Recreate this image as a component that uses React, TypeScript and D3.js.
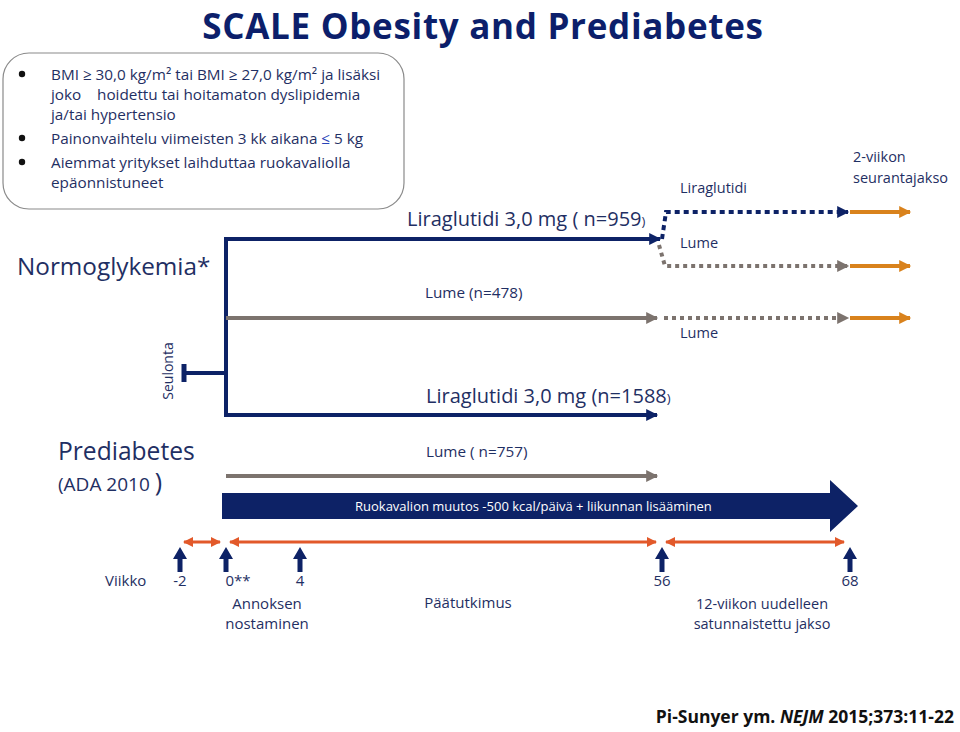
import React from "react";
import * as d3 from "d3";

const width = 960;
const height = 732;

// study timeline (weeks)
const weekTicks = [-2, 0, 4, 56, 68];
const weekTickLabels = ["-2", "0**", "4", "56", "68"];
const followUpEnd = 70;

// treatment arms
const arms = ["liraNormo", "lumeNormo", "liraPre", "lumePre"];
const armLabels = ["Liraglutidi 3,0 mg ( n=959", "Lume (n=478)", "Liraglutidi 3,0 mg (n=1588", "Lume ( n=757)"];
const armDrug = [true, false, true, false];

// re-randomisation branches after week 56
const branchLabels = ["Liraglutidi", "Lume", "Lume"];

const criteria = [
  ["BMI ≥ 30,0 kg/m² tai BMI ≥ 27,0 kg/m² ja lisäksi", "joko|hoidettu tai hoitamaton dyslipidemia", "ja/tai hypertensio"],
  ["Painonvaihtelu viimeisten 3 kk aikana ≤ 5 kg"],
  ["Aiemmat yritykset laihduttaa ruokavaliolla", "epäonnistuneet"],
];

const navy = "#0d2266";
const textNavy = "#1f2f63";
const gray = "#7c736e";
const amber = "#d9821c";
const orange = "#e2592a";
const font = "'Open Sans', Lato, sans-serif";

export default function App() {
  const x = d3
    .scaleLinear()
    .domain([-2, 0, 4, 56, 68, followUpEnd])
    .range([180, 226, 300, 662, 850, 910]);

  const y = d3.scaleOrdinal<string, number>().domain(arms).range([239, 318, 415, 476]);

  const x0 = x(0);
  const x56 = x(56);
  const x68 = x(68);

  // big diet arrow
  const tip = x68 + 8;
  const bodyEnd = tip - 28;
  const bigArrow = d3.line()([
    [x0 - 4, 493],
    [bodyEnd, 493],
    [bodyEnd, 480],
    [tip, 506],
    [bodyEnd, 532],
    [bodyEnd, 519],
    [x0 - 4, 519],
  ]);

  const upArrow = (cx: number) =>
    d3.line()([
      [cx - 2.5, 572],
      [cx - 2.5, 559],
      [cx - 7, 559],
      [cx, 547],
      [cx + 7, 559],
      [cx + 2.5, 559],
      [cx + 2.5, 572],
    ]);

  const tlSegments = [
    [-2, 0],
    [0, 56],
    [56, 68],
  ];

  const fs = 15.3;
  let lineY = 80;
  const lines: React.ReactNode[] = [];
  criteria.forEach((group, gi) => {
    if (gi > 0) lineY += 4;
    group.forEach((t, li) => {
      if (li === 0)
        lines.push(<circle key={`b${gi}`} cx={22} cy={lineY - 6} r={3.2} fill="#111" />);
      const parts = t.split("|");
      if (parts.length > 1) {
        lines.push(
          <text key={`t${gi}${li}`} y={lineY} fontSize={fs} fill={textNavy}>
            <tspan x={51}>{parts[0]}</tspan>
            <tspan x={97}>{parts[1]}</tspan>
          </text>
        );
      } else if (t.includes("≤")) {
        const [a, b] = t.split("≤");
        lines.push(
          <text key={`t${gi}${li}`} x={51} y={lineY} fontSize={fs} fill={textNavy}>
            {a}
            <tspan fill="#2845b8">≤</tspan>
            {b}
          </text>
        );
      } else {
        lines.push(
          <text key={`t${gi}${li}`} x={51} y={lineY} fontSize={fs} fill={textNavy}>
            {t}
          </text>
        );
      }
      lineY += 20;
    });
  });

  return (
    <svg
      width={width}
      height={height}
      style={{ display: "block", position: "absolute", left: 0, top: 0, fontFamily: font }}
    >
      <defs>
        <marker id="hNavy" viewBox="0 0 10 10" refX="9" refY="5" markerWidth="14" markerHeight="12" markerUnits="userSpaceOnUse" orient="auto">
          <path d="M0,0L10,5L0,10Z" fill={navy} />
        </marker>
        <marker id="hGray" viewBox="0 0 10 10" refX="9" refY="5" markerWidth="14" markerHeight="12" markerUnits="userSpaceOnUse" orient="auto">
          <path d="M0,0L10,5L0,10Z" fill={gray} />
        </marker>
        <marker id="hAmber" viewBox="0 0 10 10" refX="9" refY="5" markerWidth="14" markerHeight="12" markerUnits="userSpaceOnUse" orient="auto">
          <path d="M0,0L10,5L0,10Z" fill={amber} />
        </marker>
        <marker id="hOrange" viewBox="0 0 10 10" refX="9" refY="5" markerWidth="12" markerHeight="10" markerUnits="userSpaceOnUse" orient="auto-start-reverse">
          <path d="M0,0L10,5L0,10Z" fill={orange} />
        </marker>
      </defs>
      <rect width={width} height={height} fill="#fff" />

      <text x={483} y={38.5} textAnchor="middle" fontSize={35} letterSpacing={0.7} fontWeight="bold" fill="#0c1f6b">
        SCALE Obesity and Prediabetes
      </text>

      <rect x={3} y={53} width={401} height={156} rx={26} fill="#fff" stroke="#8a8a8a" strokeWidth={1.2} />
      {lines}

      <text x={17} y={275} fontSize={24.3} fill={textNavy}>Normoglykemia*</text>
      <text x={58} y={460} fontSize={24.6} fill={textNavy}>Prediabetes</text>
      <text x={58} y={491} fontSize={19} fill={textNavy}>
        (ADA 2010 <tspan fontSize={25}>)</tspan>
      </text>
      <text transform={`translate(173,371) rotate(-90)`} textAnchor="middle" fontSize={14} fill={textNavy}>
        Seulonta
      </text>

      {/* screening T and randomisation line */}
      <line x1={x(-2) + 3} x2={x0} y1={373} y2={373} stroke={navy} strokeWidth={4} />
      <line x1={x(-2) + 4} x2={x(-2) + 4} y1={364} y2={382} stroke={navy} strokeWidth={5} />
      <line x1={x0} x2={x0} y1={y("liraNormo")} y2={y("liraPre")} stroke={navy} strokeWidth={4} strokeLinecap="square" />

      {/* main arms */}
      {arms.map((a, i) => (
        <line
          key={a}
          x1={x0}
          x2={x56 - (i === 0 ? 2 : 5)}
          y1={y(a)}
          y2={y(a)}
          stroke={armDrug[i] ? navy : gray}
          strokeWidth={4}
          markerEnd={`url(#${armDrug[i] ? "hNavy" : "hGray"})`}
        />
      ))}
      <text x={407} y={226} fontSize={20} fill={textNavy}>
        {armLabels[0]}
        <tspan fontSize={13}>)</tspan>
      </text>
      <text x={425} y={298} fontSize={15.3} fill={textNavy}>{armLabels[1]}</text>
      <text x={426} y={403} fontSize={20} fill={textNavy}>
        {armLabels[2]}
        <tspan fontSize={13}>)</tspan>
      </text>
      <text x={426} y={457} fontSize={15.3} fill={textNavy}>{armLabels[3]}</text>

      {/* extension dotted branches */}
      <path
        d={d3.line()([[x56, y("liraNormo")], [x56 + 4, 212], [x68 - 2, 212]]) || ""}
        fill="none"
        stroke={navy}
        strokeWidth={4}
        strokeDasharray="5 4"
        markerEnd="url(#hNavy)"
      />
      <path
        d={d3.line()([[x56 - 3, y("liraNormo") + 6], [x56 + 3, 266], [x68 - 2, 266]]) || ""}
        fill="none"
        stroke={gray}
        strokeWidth={4}
        strokeDasharray="4 4"
        markerEnd="url(#hGray)"
      />
      <line x1={x56 + 2} x2={x68 - 2} y1={y("lumeNormo")} y2={y("lumeNormo")} stroke={gray} strokeWidth={4} strokeDasharray="4 4" markerEnd="url(#hGray)" />
      {[212, 266, y("lumeNormo")].map((yy) => (
        <line key={yy} x1={x68} x2={x(followUpEnd)} y1={yy} y2={yy} stroke={amber} strokeWidth={4} markerEnd="url(#hAmber)" />
      ))}
      <text x={680} y={193} fontSize={14.5} fill={textNavy}>{branchLabels[0]}</text>
      <text x={680} y={248} fontSize={14.5} fill={textNavy}>{branchLabels[1]}</text>
      <text x={680} y={338} fontSize={14.5} fill={textNavy}>{branchLabels[2]}</text>
      <text x={853} y={162} fontSize={14.5} fill={textNavy}>2-viikon</text>
      <text x={853} y={183} fontSize={14.5} fill={textNavy}>seurantajakso</text>

      {/* diet arrow */}
      <path d={bigArrow || ""} fill={navy} />
      <text x={355} y={511} fontSize={13} fill="#fff">
        Ruokavalion muutos -500 kcal/päivä + liikunnan lisääminen
      </text>

      {/* timeline */}
      {tlSegments.map(([a, b]) => (
        <line
          key={a}
          x1={x(a) + 4}
          x2={x(b) - 6}
          y1={542}
          y2={542}
          stroke={orange}
          strokeWidth={3}
          markerStart="url(#hOrange)"
          markerEnd="url(#hOrange)"
        />
      ))}
      {weekTicks.map((w, i) => (
        <g key={w}>
          <path d={upArrow(x(w)) || ""} fill={navy} />
          <text x={x(w) + (i === 1 ? 12 : 0)} y={586} fontSize={15} textAnchor="middle" fill={textNavy}>
            {weekTickLabels[i]}
          </text>
        </g>
      ))}
      <text x={105} y={586} fontSize={15} fill={textNavy}>Viikko</text>
      <text x={267} y={609} fontSize={15} textAnchor="middle" fill={textNavy}>Annoksen</text>
      <text x={267} y={629} fontSize={15} textAnchor="middle" fill={textNavy}>nostaminen</text>
      <text x={468} y={608} fontSize={15} textAnchor="middle" fill={textNavy}>Päätutkimus</text>
      <text x={762} y={609} fontSize={14.5} textAnchor="middle" fill={textNavy}>12-viikon uudelleen</text>
      <text x={762} y={629} fontSize={14.5} textAnchor="middle" fill={textNavy}>satunnaistettu jakso</text>

      <text x={954} y={723} fontSize={17.5} fontWeight="bold" textAnchor="end" fill="#111">
        Pi-Sunyer ym. <tspan fontStyle="italic">NEJM</tspan> 2015;373:11-22
      </text>
    </svg>
  );
}
